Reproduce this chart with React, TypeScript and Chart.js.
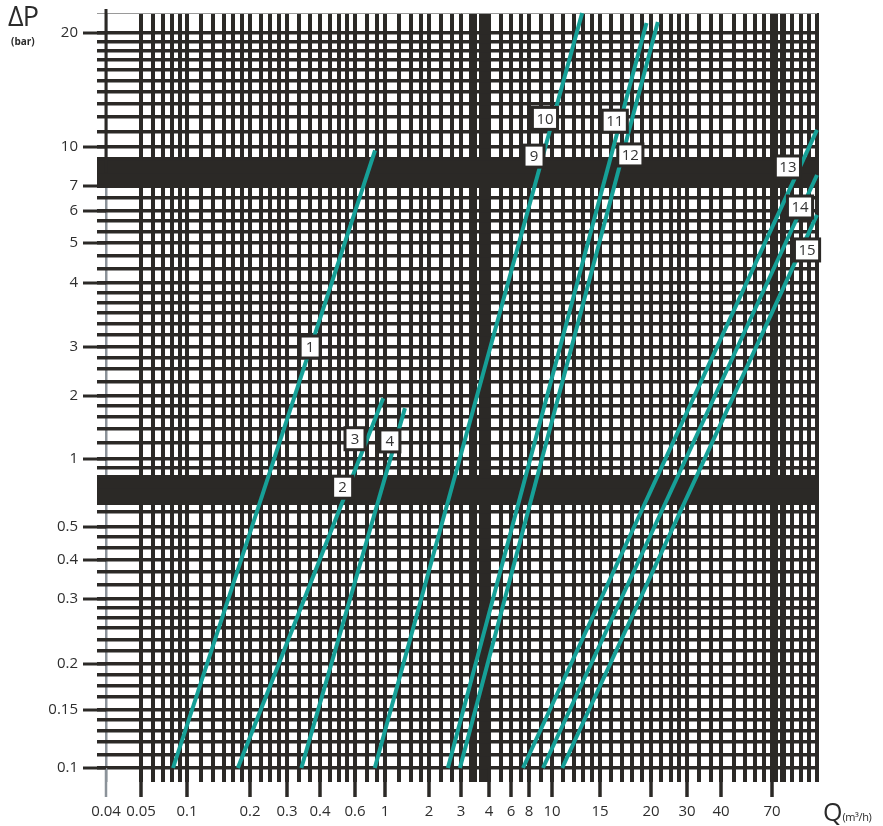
import React, { useEffect, useRef } from 'react';
import { Chart, LinearScale, registerables } from 'chart.js';

Chart.register(...registerables);

// ---------------- data ----------------
// X axis (Q, m³/h) labelled ticks
const X_TICK_VALUES = [0.04, 0.05, 0.1, 0.2, 0.3, 0.4, 0.6, 1, 2, 3, 4, 6, 8, 10, 15, 20, 30, 40, 70, 100];
const X_TICK_LABELS = ['0.04', '0.05', '0.1', '0.2', '0.3', '0.4', '0.6', '1', '2', '3', '4', '6', '8', '10', '15', '20', '30', '40', '70', ''];
// Y axis (ΔP, bar) labelled ticks
const Y_TICK_VALUES = [0.1, 0.15, 0.2, 0.3, 0.4, 0.5, 1, 2, 3, 4, 5, 6, 7, 10, 20, 24];
const Y_TICK_LABELS = ['0.1', '0.15', '0.2', '0.3', '0.4', '0.5', '1', '2', '3', '4', '5', '6', '7', '10', '20', ''];

// Curves: start / end points (Q, ΔP)
const CURVE_NAMES = ['1', '2-3', '4', '9-10', '11', '12', '13', '14', '15'];
const CURVE_Q = [
  [0.081, 0.844],
  [0.175, 0.97],
  [0.34, 1.37],
  [0.84, 12.9],
  [2.54, 19.5],
  [2.96, 21.6],
  [7.27, 100],
  [9.16, 100],
  [10.9, 100],
];
const CURVE_DP = [
  [0.1, 9.7],
  [0.1, 1.95],
  [0.1, 1.75],
  [0.1, 24],
  [0.1, 21.9],
  [0.1, 22.1],
  [0.1, 11.1],
  [0.1, 7.74],
  [0.1, 5.87],
];

// Curve number tags (Q, ΔP)
const TAG_TEXT = ['1', '2', '3', '4', '9', '10', '11', '12', '13', '14', '15'];
const TAG_Q = [0.367, 0.52, 0.6, 1.08, 8.4, 9.34, 16.3, 17.8, 79.4, 87.4, 92.4];
const TAG_DP = [3.0, 0.75, 1.25, 1.22, 9.2, 11.9, 11.7, 9.3, 8.33, 6.15, 4.81];

// dense dark bands of the grid
const Y_BANDS = [7.89, 0.73];
const X_BANDS = [3.45, 3.85, 72, 77];

// ---------------- axis layout (non-uniform printed scale) ----------------
const X_AXIS_OFFSETS = [0, 35, 81, 144, 181, 214, 249, 279, 323, 355, 383, 405, 423, 446, 494, 545, 581, 615, 666, 711];
const Y_AXIS_OFFSETS = [0, 58, 104, 169, 208, 241, 309, 372, 421, 485, 525, 557, 582, 621, 735, 755];

const GRID_COLOR = '#2b2926';
const EDGE_COLOR = '#8b9299';
const CURVE_COLOR = '#16a097';
const FONT = '"Open Sans", "Noto Sans", sans-serif';

type Tk = { value: number; text: string; kind: string; w: number };

function makeAxis(values: number[], offsets: number[]) {
  const logs = values.map((v) => Math.log10(v));
  const total = offsets[offsets.length - 1];
  const fr = offsets.map((o) => o / total);
  const n = values.length;
  const toFrac = (v: number) => {
    const lv = Math.log10(Math.max(v, 1e-12));
    let i = 0;
    while (i < n - 2 && lv > logs[i + 1]) i++;
    return fr[i] + ((lv - logs[i]) / (logs[i + 1] - logs[i])) * (fr[i + 1] - fr[i]);
  };
  const fromFrac = (f: number) => {
    let i = 0;
    while (i < n - 2 && f > fr[i + 1]) i++;
    const lv = logs[i] + ((f - fr[i]) / (fr[i + 1] - fr[i])) * (logs[i + 1] - logs[i]);
    return Math.pow(10, lv);
  };
  return { toFrac, fromFrac };
}

function buildTickList(
  values: number[],
  labels: string[],
  offsets: number[],
  step: number,
  lineW: number,
  emptyIntervals: number[],
  bands: number[],
  bandWidth: number,
  firstKind: string,
  lastKind: string
): Tk[] {
  const ticks: Tk[] = [];
  for (let i = 0; i < values.length; i++) {
    let kind = 'major';
    let w = lineW;
    if (i === 0 && firstKind !== 'major') { kind = firstKind; w = kind === 'edge' ? 2.5 : 1; }
    if (i === values.length - 1 && lastKind !== 'major') { kind = lastKind; w = kind === 'edge' ? 2.5 : 1; }
    ticks.push({ value: values[i], text: labels[i], kind, w });
    if (i < values.length - 1 && !emptyIntervals.includes(i)) {
      const gap = offsets[i + 1] - offsets[i];
      const count = Math.max(1, Math.round(gap / step));
      for (let k = 1; k < count; k++) {
        ticks.push({ value: values[i] + ((values[i + 1] - values[i]) * k) / count, text: '', kind: 'minor', w: lineW });
      }
    }
  }
  bands.forEach((b) => ticks.push({ value: b, text: '', kind: 'band', w: bandWidth }));
  ticks.sort((a, b) => a.value - b.value);
  return ticks;
}

function defineScale(scaleId: string, values: number[], offsets: number[], tickList: Tk[]) {
  const axis = makeAxis(values, offsets);
  const lo = values[0];
  const hi = values[values.length - 1];
  class PiecewiseScale extends (LinearScale as any) {
    static id = scaleId;
    static defaults = {};
    determineDataLimits() {
      this.min = lo;
      this.max = hi;
    }
    buildTicks() {
      return tickList.map((t) => ({ ...t }));
    }
    getPixelForValue(value: number) {
      if (value === null || value === undefined) return NaN;
      return this.getPixelForDecimal(axis.toFrac(value));
    }
    getValueForPixel(pixel: number) {
      return axis.fromFrac(this.getDecimalForPixel(pixel));
    }
  }
  return PiecewiseScale;
}

const X_TICKS = buildTickList(X_TICK_VALUES, X_TICK_LABELS, X_AXIS_OFFSETS, 10, 4, [0], X_BANDS, 4, 'edge', 'major');
const Y_TICKS = buildTickList(Y_TICK_VALUES, Y_TICK_LABELS, Y_AXIS_OFFSETS, 11.5, 3.5, [Y_TICK_VALUES.length - 2], Y_BANDS, 30, 'major', 'top');

const XScale = defineScale('pwx', X_TICK_VALUES, X_AXIS_OFFSETS, X_TICKS);
const YScale = defineScale('pwy', Y_TICK_VALUES, Y_AXIS_OFFSETS, Y_TICKS);
Chart.register(XScale as any, YScale as any);

const gridColor = (ctx: any) => {
  const k = ctx.tick ? ctx.tick.kind : 'minor';
  if (k === 'edge') return EDGE_COLOR;
  if (k === 'top') return '#9a9a9a';
  return GRID_COLOR;
};
const gridWidth = (ctx: any) => (ctx.tick ? ctx.tick.w : 3);

const overlayPlugin = {
  id: 'overlay',
  beforeDatasetsDraw(chart: any) {
    const { ctx, chartArea, scales } = chart;
    const xs = scales.x;
    const ys = scales.y;
    ctx.save();
    ctx.lineCap = 'butt';
    xs.ticks.forEach((t: any, i: number) => {
      if (!t.text) return;
      const px = xs.getPixelForTick(i);
      ctx.strokeStyle = t.kind === 'edge' ? EDGE_COLOR : GRID_COLOR;
      ctx.lineWidth = t.kind === 'edge' ? 2.5 : 3.5;
      ctx.beginPath();
      ctx.moveTo(px, chartArea.bottom);
      ctx.lineTo(px, chartArea.bottom + 29);
      ctx.stroke();
    });
    ys.ticks.forEach((t: any, i: number) => {
      if (!t.text) return;
      const py = ys.getPixelForTick(i);
      ctx.strokeStyle = GRID_COLOR;
      ctx.lineWidth = 3;
      ctx.beginPath();
      ctx.moveTo(chartArea.left, py);
      ctx.lineTo(chartArea.left - 23, py);
      ctx.stroke();
    });
    // black upper part of the left axis
    ctx.strokeStyle = GRID_COLOR;
    ctx.lineWidth = 3;
    ctx.beginPath();
    ctx.moveTo(chartArea.left, chartArea.top - 4);
    ctx.lineTo(chartArea.left, ys.getPixelForValue(Y_BANDS[0]));
    ctx.stroke();
    ctx.restore();
  },
  afterDatasetsDraw(chart: any) {
    const { ctx, scales } = chart;
    ctx.save();
    ctx.font = '15px ' + FONT;
    ctx.textAlign = 'center';
    ctx.textBaseline = 'middle';
    TAG_TEXT.forEach((txt, i) => {
      const px = scales.x.getPixelForValue(TAG_Q[i]);
      const py = scales.y.getPixelForValue(TAG_DP[i]);
      const tw = ctx.measureText(txt).width;
      const w = Math.max(17, tw + 5);
      const h = 19;
      ctx.fillStyle = GRID_COLOR;
      ctx.fillRect(px - w / 2 - 3, py - h / 2 - 3, w + 6, h + 6);
      ctx.fillStyle = '#ffffff';
      ctx.fillRect(px - w / 2, py - h / 2, w, h);
      ctx.fillStyle = '#333333';
      ctx.fillText(txt, px, py + 1);
    });
    ctx.restore();
  },
};

export default function App() {
  const canvasRef = useRef<HTMLCanvasElement | null>(null);

  useEffect(() => {
    if (!canvasRef.current) return;
    const datasets = CURVE_NAMES.map((name, i) => ({
      label: name,
      data: [
        { x: CURVE_Q[i][0], y: CURVE_DP[i][0] },
        { x: CURVE_Q[i][1], y: CURVE_DP[i][1] },
      ],
      borderColor: CURVE_COLOR,
      backgroundColor: CURVE_COLOR,
      borderWidth: 4,
      pointRadius: 0,
      tension: 0,
      fill: false,
    }));
    const chart = new Chart(canvasRef.current, {
      type: 'line',
      data: { datasets },
      options: {
        responsive: false,
        animation: false,
        events: [],
        layout: { padding: { left: 0, right: 66, top: 13, bottom: 0 } },
        plugins: { legend: { display: false }, tooltip: { enabled: false } },
        scales: {
          x: {
            type: 'pwx',
            position: 'bottom',
            border: { display: false },
            grid: { color: gridColor, lineWidth: gridWidth, tickLength: 14, offset: false },
            ticks: {
              autoSkip: false,
              maxRotation: 0,
              minRotation: 0,
              padding: 21,
              color: '#2e2e2e',
              font: { family: FONT, size: 15 },
              callback: (_v: any, i: number, ticks: any[]) => ticks[i].text,
            },
            afterFit: (s: any) => {
              s.height = 58;
              s.paddingLeft = 0;
              s.paddingRight = 0;
            },
          },
          y: {
            type: 'pwy',
            position: 'left',
            border: { display: false },
            grid: { color: gridColor, lineWidth: gridWidth, tickLength: 9, offset: false },
            ticks: {
              autoSkip: false,
              padding: 19,
              color: '#2e2e2e',
              font: { family: FONT, size: 15 },
              callback: (_v: any, i: number, ticks: any[]) => ticks[i].text,
            },
            afterFit: (s: any) => {
              s.width = 106;
              s.paddingTop = 0;
              s.paddingBottom = 0;
            },
          },
        } as any,
      },
      plugins: [overlayPlugin],
    } as any);
    return () => chart.destroy();
  }, []);

  return (
    <div style={{ position: 'fixed', left: 0, top: 0, width: 883, height: 826, background: '#fff', fontFamily: FONT, color: '#2b2b2b' }}>
      <canvas ref={canvasRef} width={883} height={826} style={{ width: 883, height: 826, display: 'block' }} />
      <div style={{ position: 'absolute', left: 8, top: -2, fontSize: 27, lineHeight: '36px', whiteSpace: 'nowrap', letterSpacing: -1 }}>ΔP</div>
      <div style={{ position: 'absolute', left: 11, top: 35, fontSize: 10, lineHeight: '13px', fontWeight: 700, whiteSpace: 'nowrap' }}>(bar)</div>
      <div style={{ position: 'absolute', left: 823, top: 795, whiteSpace: 'nowrap', lineHeight: '32px' }}>
        <span style={{ fontSize: 25 }}>Q</span>
        <span style={{ fontSize: 11, letterSpacing: -0.4 }}>(m³/h)</span>
      </div>
    </div>
  );
}
